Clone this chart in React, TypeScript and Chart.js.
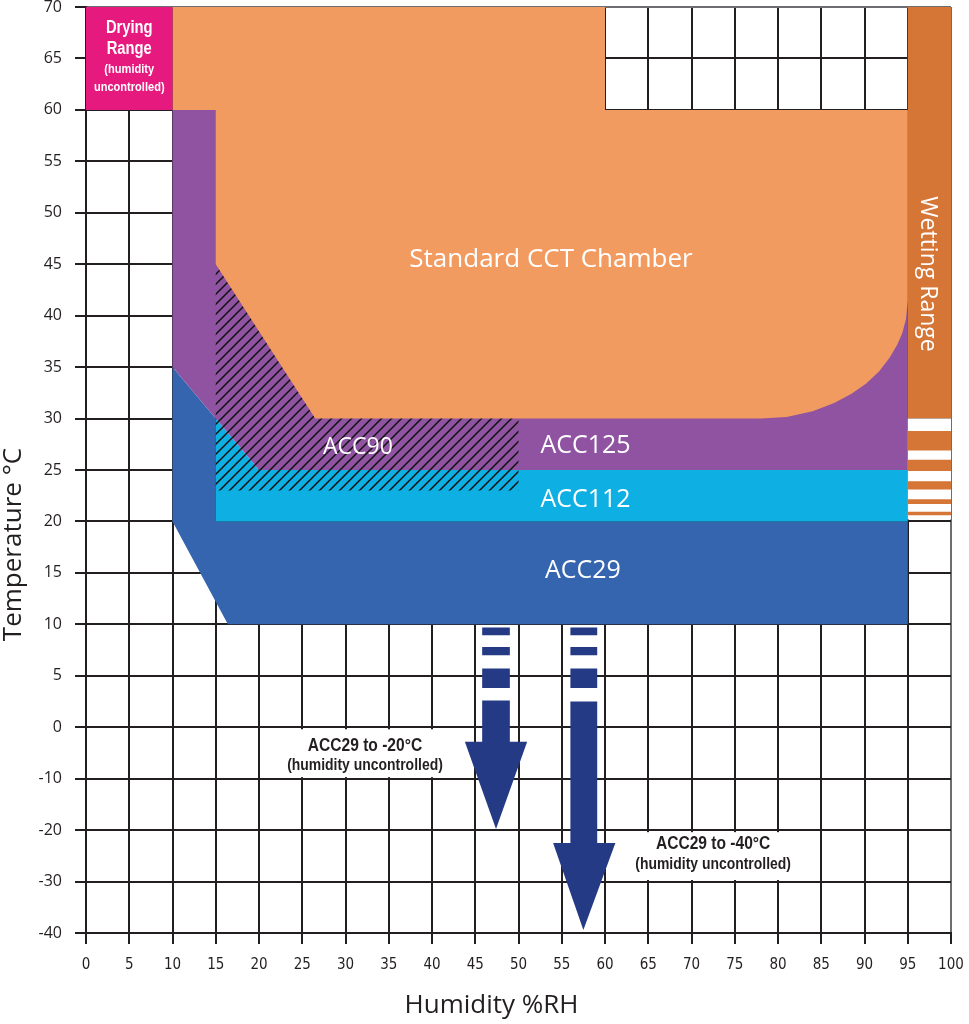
import { useEffect, useRef } from 'react';
import { Chart, registerables } from 'chart.js';

Chart.register(...registerables);

// ---------- axis ticks ----------
const humidityTicks = [0, 5, 10, 15, 20, 25, 30, 35, 40, 45, 50, 55, 60, 65, 70, 75, 80, 85, 90, 95, 100];
const temperatureTicks = [70, 65, 60, 55, 50, 45, 40, 35, 30, 25, 20, 15, 10, 5, 0, -10, -20, -30, -40];

// ---------- regions: [humidity %RH, temperature °C] vertices ----------
const dryingRange = [[0, 60], [0, 70], [10, 70], [10, 60]];
const standardChamber = [
  [10, 60], [10, 70], [60, 70], [60, 60], [95, 60], [95, 41.5], [94.8, 39.7], [94.4, 38.4], [93.8, 37.2],
  [92.9, 35.9], [91.7, 34.6], [90.2, 33.4], [88.5, 32.4], [86.5, 31.5], [84, 30.7], [81, 30.15], [78, 30],
  [26.5, 30], [15, 45], [15, 60],
];
const acc125 = [[10, 35], [10, 60], [95, 60], [95, 25], [20, 25], [15, 30]];
const acc90 = [[15, 23], [15, 44.5], [50, 44.5], [50, 23]];
const acc112 = [[15, 20], [15, 30], [20, 25], [95, 25], [95, 20]];
const acc29 = [[10, 20], [10, 35], [15, 30], [15, 20], [95, 20], [95, 10], [16.4, 10]];
const wettingRange = [[95, 30], [95, 70], [100, 70], [100, 30]];
const wettingGap = [[95, 20.2], [95, 30], [100, 30], [100, 20.2]];
const wettingStripes = [[26.9, 28.8], [24.9, 26.0], [23.1, 23.9], [21.7, 22.15], [20.6, 20.95]];

// ---------- extension arrows ----------
const arrowTo20 = [[43.8, -2.8], [45.8, -2.8], [45.8, 2.6], [49.0, 2.6], [49.0, -2.8], [51.0, -2.8], [47.4, -19.8]];
const arrowTo40 = [[54.0, -22.5], [56.0, -22.5], [56.0, 2.5], [59.1, 2.5], [59.1, -22.5], [61.2, -22.5], [57.5, -39.4]];
const arrow20Shaft = [45.8, 49.0];
const arrow40Shaft = [56.0, 59.1];
const arrowDashes = [[8.95, 9.7], [7.0, 7.8], [3.8, 5.7]];

// ---------- text ----------
const regionLabels = [
  { text: 'Standard CCT Chamber', h: 53.76, t: 44.76, size: 26 },
  { text: 'ACC90', h: 31.43, t: 26.56, size: 23 },
  { text: 'ACC125', h: 57.75, t: 26.62, size: 25 },
  { text: 'ACC112', h: 57.75, t: 21.38, size: 25 },
  { text: 'ACC29', h: 57.44, t: 14.47, size: 25 },
];
const dryingLabels = [
  { text: 'Drying', h: 5, t: 67.44, size: 18 },
  { text: 'Range', h: 5, t: 65.4, size: 18 },
  { text: '(humidity', h: 5, t: 63.61, size: 13.5 },
  { text: 'uncontrolled)', h: 5, t: 61.87, size: 13.5 },
];
const wettingLabel = { text: 'Wetting Range', h: 96.53, t: 44.05, size: 23 };
const notes = [
  {
    box: [23.0, 41.9, -0.4, -9.7],
    lines: [
      { text: 'ACC29 to -20°C', h: 32.25, t: -4.62, size: 19 },
      { text: '(humidity uncontrolled)', h: 32.25, t: -8.31, size: 17 },
    ],
  },
  {
    box: [63.2, 81.9, -20.4, -29.7],
    lines: [
      { text: 'ACC29 to -40°C', h: 72.5, t: -23.67, size: 19 },
      { text: '(humidity uncontrolled)', h: 72.5, t: -27.56, size: 17 },
    ],
  },
];

const COLORS = {
  drying: '#e6197e',
  standard: '#f19b61',
  acc125: '#8f53a1',
  acc112: '#0eafe3',
  acc29: '#3565ae',
  wetting: '#d57536',
  arrow: '#253a85',
  ink: '#231f20',
};

const SANS = "'Open Sans', 'Noto Sans', sans-serif";
const BOLD_NARROW = "bold SIZEpx 'Liberation Sans', Arial, sans-serif";
const CONDENSED = "'DejaVu Sans Condensed', 'Liberation Sans', sans-serif";
const NARROW_SCALE = 0.82;
const TOP_SHIFT = 20;
const W = 969;
const H = 1024 + TOP_SHIFT;

// temperature axis: 5°C steps above 0, 10°C steps below 0 (equal spacing)
const toP = (t: number) => (t >= 0 ? t : t / 2);
const fromP = (p: number) => (p >= 0 ? p : p * 2);
const band = (x0: number, x1: number, t0: number, t1: number) => [[x0, t0], [x0, t1], [x1, t1], [x1, t0]];

function makeHatch(): any {
  const c = document.createElement('canvas');
  c.width = 10;
  c.height = 10;
  const g = c.getContext('2d')!;
  g.strokeStyle = '#111';
  g.lineWidth = 1.5;
  g.beginPath();
  g.moveTo(0, 10); g.lineTo(10, 0);
  g.moveTo(-5, 5); g.lineTo(5, -5);
  g.moveTo(5, 15); g.lineTo(15, 5);
  g.stroke();
  return g.createPattern(c, 'repeat');
}

function narrowText(ctx: CanvasRenderingContext2D, text: string, x: number, y: number, size: number) {
  ctx.save();
  ctx.translate(x, y);
  ctx.scale(NARROW_SCALE, 1);
  ctx.font = BOLD_NARROW.replace('SIZE', String(size));
  ctx.fillText(text, 0, 0);
  ctx.restore();
}

const annotate = {
  id: 'annotate',
  afterDatasetsDraw(chart: any) {
    const { ctx } = chart;
    const xs = chart.scales.x;
    const ys = chart.scales.y;
    const X = (h: number) => xs.getPixelForValue(h);
    const Y = (t: number) => ys.getPixelForValue(toP(t));
    ctx.save();
    ctx.textAlign = 'center';
    ctx.textBaseline = 'alphabetic';
    ctx.fillStyle = '#fff';
    for (const l of regionLabels) {
      ctx.font = `${l.size}px ${SANS}`;
      ctx.fillText(l.text, X(l.h), Y(l.t));
    }
    for (const l of dryingLabels) narrowText(ctx, l.text, X(l.h), Y(l.t), l.size);
    ctx.save();
    ctx.translate(X(wettingLabel.h), Y(wettingLabel.t));
    ctx.rotate(Math.PI / 2);
    ctx.font = `${wettingLabel.size}px ${SANS}`;
    ctx.fillText(wettingLabel.text, 0, 0);
    ctx.restore();
    for (const n of notes) {
      const [h0, h1, t0, t1] = n.box;
      ctx.fillStyle = '#fff';
      ctx.fillRect(X(h0), Y(t0), X(h1) - X(h0), Y(t1) - Y(t0));
      ctx.fillStyle = COLORS.ink;
      for (const l of n.lines) narrowText(ctx, l.text, X(l.h), Y(l.t), l.size);
    }
    ctx.restore();
  },
  afterDraw(chart: any) {
    const { ctx } = chart;
    ctx.save();
    ctx.fillStyle = COLORS.ink;
    ctx.textAlign = 'center';
    ctx.textBaseline = 'alphabetic';
    ctx.font = `26px ${SANS}`;
    ctx.fillText('Humidity %RH', 491.5, 1013 + TOP_SHIFT);
    ctx.translate(20.5, 544.5 + TOP_SHIFT);
    ctx.rotate(-Math.PI / 2);
    ctx.fillText('Temperature °C', 0, 0);
    ctx.restore();
  },
};

export default function App() {
  const ref = useRef<HTMLCanvasElement>(null);

  useEffect(() => {
    const canvas = ref.current;
    if (!canvas) return;
    const hatch = makeHatch();
    const ds = (label: string, pts: number[][], color: any, order: number) => ({
      label,
      data: pts.map(([x, t]) => ({ x, y: toP(t) })),
      showLine: true,
      fill: 'shape',
      backgroundColor: color,
      borderColor: 'rgba(0,0,0,0)',
      borderWidth: 0,
      pointRadius: 0,
      pointHoverRadius: 0,
      tension: 0,
      order,
    });
    const datasets: any[] = [
      ds('ACC29', acc29, COLORS.acc29, 9),
      ds('ACC112', acc112, COLORS.acc112, 8),
      ds('ACC125', acc125, COLORS.acc125, 7),
      ds('ACC90', acc90, hatch, 6),
      ds('Standard CCT Chamber', standardChamber, COLORS.standard, 5),
      ds('Drying Range', dryingRange, COLORS.drying, 4),
      ds('Wetting Range', wettingRange, COLORS.wetting, 4),
      ds('Wetting gap', wettingGap, '#ffffff', 3),
      ...wettingStripes.map(([a, b]) => ds('Wetting stripe', band(95, 100, a, b), COLORS.wetting, 2)),
      ds('ACC29 to -20°C', arrowTo20, COLORS.arrow, 1),
      ds('ACC29 to -40°C', arrowTo40, COLORS.arrow, 1),
      ...arrowDashes.map(([a, b]) => ds('dash', band(arrow20Shaft[0], arrow20Shaft[1], a, b), COLORS.arrow, 1)),
      ...arrowDashes.map(([a, b]) => ds('dash', band(arrow40Shaft[0], arrow40Shaft[1], a, b), COLORS.arrow, 1)),
    ];

    const gridColor = (edge: number) => (c: any) =>
      c.tick && c.tick.value === edge ? '#6d6e71' : COLORS.ink;

    const chart = new Chart(canvas, {
      type: 'scatter',
      data: { datasets },
      options: {
        animation: false,
        responsive: false,
        maintainAspectRatio: false,
        devicePixelRatio: 1,
        events: [],
        layout: { padding: { top: 7 + TOP_SHIFT, right: 18, left: 0, bottom: 0 } },
        plugins: { legend: { display: false }, tooltip: { enabled: false } },
        scales: {
          x: {
            type: 'linear',
            min: 0,
            max: 100,
            afterBuildTicks: (s: any) => {
              s.ticks = humidityTicks.map((v) => ({ value: v }));
            },
            afterFit: (s: any) => {
              s.height = 91;
              s.paddingLeft = 0;
              s.paddingRight = 0;
            },
            grid: { color: gridColor(100), lineWidth: 2, tickLength: 11, tickColor: COLORS.ink, tickWidth: 2 },
            border: { color: COLORS.ink, width: 2 },
            ticks: {
              autoSkip: false,
              maxRotation: 0,
              padding: 12,
              color: COLORS.ink,
              font: { family: CONDENSED, size: 15 },
              callback: (v: any) => String(v),
            },
          },
          y: {
            type: 'linear',
            min: toP(-40),
            max: 70,
            afterBuildTicks: (s: any) => {
              s.ticks = temperatureTicks.map((t) => ({ value: toP(t) }));
            },
            afterFit: (s: any) => {
              s.width = 86;
              s.paddingTop = 0;
              s.paddingBottom = 0;
            },
            grid: { color: gridColor(70), lineWidth: 2, tickLength: 11, tickColor: COLORS.ink, tickWidth: 2 },
            border: { color: COLORS.ink, width: 2 },
            ticks: {
              autoSkip: false,
              padding: 13,
              color: COLORS.ink,
              font: { family: SANS, size: 16 },
              callback: (v: any) => String(fromP(Number(v))),
            },
          },
        },
      } as any,
      plugins: [annotate],
    });
    return () => chart.destroy();
  }, []);

  return (
    <div style={{ position: 'absolute', left: 0, top: -TOP_SHIFT, width: W, height: H, overflow: 'hidden' }}>
      <canvas ref={ref} width={W} height={H} style={{ display: 'block', width: W, height: H }} />
    </div>
  );
}
